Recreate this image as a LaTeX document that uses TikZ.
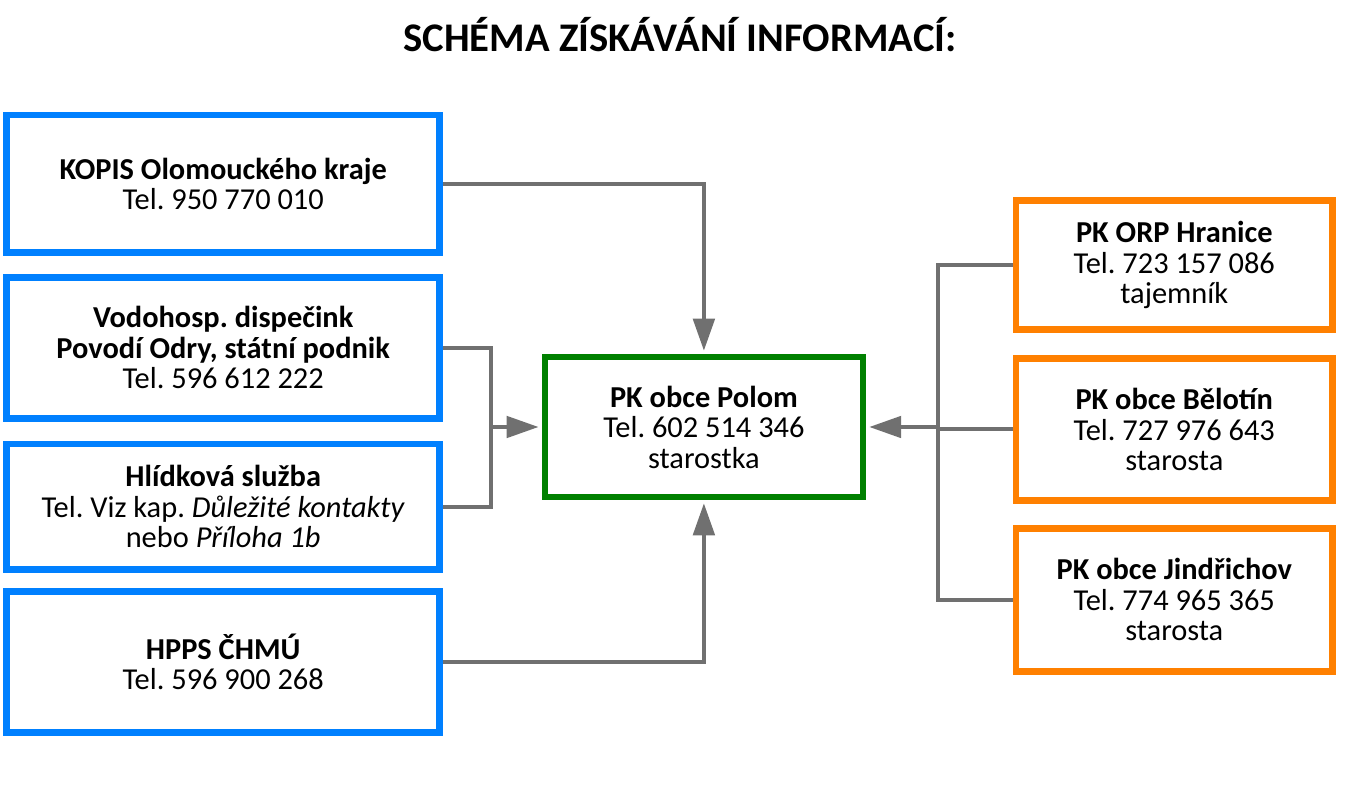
\documentclass[tikz,border=0pt]{standalone}
\usepackage{fontspec}
\setmainfont{Carlito}
\usetikzlibrary{arrows.meta}
\frenchspacing

\definecolor{modra}{RGB}{0,128,255}
\definecolor{zelena}{RGB}{0,128,0}
\definecolor{oranzova}{RGB}{255,128,0}
\definecolor{seda}{RGB}{112,112,112}

\begin{document}
\begin{tikzpicture}[x=0.75pt,y=-0.75pt,
    box/.style={draw,line width=4.9pt,align=center,inner sep=0pt,
        font=\fontsize{22.8}{22.9}\selectfont},
    zdroj/.style={box,draw=modra,minimum width=324.8pt},
    obec/.style={box,draw=oranzova,minimum width=237.5pt},
    spoj/.style={draw=seda,line width=3pt},
    sip/.style={spoj,-{Triangle[length=24pt,width=16pt]},shorten >=2.4pt}]
    \useasboundingbox (0,0) rectangle (1360,787);

    \node[font=\fontsize{30.5}{32}\selectfont\bfseries] (nadpis) at (680,35) {SCHÉMA ZÍSKÁVÁNÍ INFORMACÍ:};

    \node[zdroj,minimum height=103.3pt] (kopis) at (223.2,183.9)
        {\textbf{KOPIS Olomouckého kraje}\\Tel. 950 770 010};
    \node[zdroj,minimum height=105.8pt] (vodo) at (223.2,347.9)
        {\textbf{Vodohosp. dispečink}\\\textbf{Povodí Odry, státní podnik}\\Tel. 596 612 222};
    \node[zdroj,minimum height=94pt] (hlidka) at (223.2,506.7)
        {\textbf{Hlídková služba}\\Tel. Viz kap. \textit{Důležité kontakty}\\nebo \textit{Příloha 1b}};
    \node[zdroj,minimum height=105.8pt] (hpps) at (223.2,662)
        {\textbf{HPPS ČHMÚ}\\Tel. 596 900 268};

    \node[box,draw=zelena,minimum width=238.3pt,minimum height=104.7pt] (polom) at (703.9,427)
        {\textbf{PK obce Polom}\\Tel. 602 514 346\\starostka};

    \node[obec,minimum height=96.6pt] (orp) at (1174.3,265)
        {\textbf{PK ORP Hranice}\\Tel. 723 157 086\\tajemník};
    \node[obec,minimum height=106.8pt] (belotin) at (1174.3,429.5)
        {\textbf{PK obce Bělotín}\\Tel. 727 976 643\\starosta};
    \node[obec,minimum height=107.2pt] (jindrichov) at (1174.3,599.8)
        {\textbf{PK obce Jindřichov}\\Tel. 774 965 365\\starosta};

    \coordinate (vlevo) at (491,427);
    \coordinate (vpravo) at (938,427);

    \draw[sip] (kopis.east) -| (polom.north);
    \draw[sip] (hpps.east) -| (polom.south);
    \draw[spoj] (vodo.east) -| (vlevo) |- (hlidka.east);
    \draw[sip] (vlevo) -- (polom.west);
    \draw[spoj] (orp.west) -| (vpravo) |- (jindrichov.west);
    \draw[spoj] (belotin.west) -- (belotin.west -| vpravo);
    \draw[sip] (vpravo) -- (polom.east);
\end{tikzpicture}
\end{document}
